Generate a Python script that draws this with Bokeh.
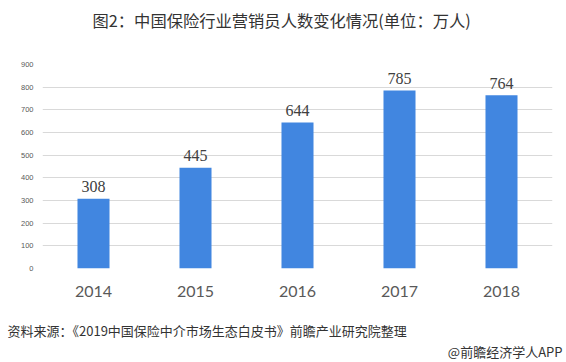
from bokeh.plotting import figure
from bokeh.models import ColumnDataSource, Range1d, FixedTicker, LabelSet, Title
from bokeh.embed import file_html
from bokeh.resources import INLINE

years = ["2014", "2015", "2016", "2017", "2018"]
counts = [308, 445, 644, 785, 764]
y_ticks = [0, 100, 200, 300, 400, 500, 600, 700, 800, 900]
title_text = "图2：中国保险行业营销员人数变化情况(单位：万人)"
source_text = "资料来源：《2019中国保险中介市场生态白皮书》前瞻产业研究院整理"
credit_text = "@前瞻经济学人APP"

src = ColumnDataSource(data=dict(year=years, count=counts, label=[str(c) for c in counts]))

p = figure(x_range=years, y_range=Range1d(0, 900), width=566, height=362, title=None,
           output_backend="svg", toolbar_location=None,
           min_border_left=42, min_border_right=14, min_border_top=64, min_border_bottom=94)
p.outline_line_color = None
p.background_fill_color = "white"
p.border_fill_color = "white"

p.vbar(x="year", top="count", width=0.314, source=src, fill_color="#4186E0", line_color=None)

p.xgrid.grid_line_color = None
p.ygrid.grid_line_color = "#D9D9D9"
p.ygrid.grid_line_width = 1
p.yaxis.ticker = FixedTicker(ticks=y_ticks)

for ax in (p.xaxis, p.yaxis):
    ax.axis_line_color = None
    ax.major_tick_line_color = None
    ax.minor_tick_line_color = None
    ax.major_tick_out = 0
    ax.major_tick_in = 0
    ax.major_label_text_color = "#595959"

p.yaxis.major_label_text_font = "Liberation Sans"
p.yaxis.major_label_text_font_size = "7.5px"
p.yaxis.major_label_standoff = 9
p.xaxis.major_label_text_font = "Lato"
p.xaxis.major_label_text_font_size = "16px"
p.xaxis.major_label_standoff = 17

labels = LabelSet(x="year", y="count", text="label", source=src, text_align="center",
                  text_baseline="middle", y_offset=12, text_font="Lato",
                  text_font_size="16px", text_color="#404040")
p.add_layout(labels)

# spacer between frame and chart title
p.add_layout(Title(text=" ", text_font="Noto Sans CJK SC", text_font_size="13px", standoff=11.5), "above")
p.add_layout(Title(text=title_text, align="left", offset=50, standoff=0,
                   text_font="Noto Sans CJK SC", text_font_size="16.3px",
                   text_font_style="normal", text_color="#333333"), "above")

# spacer between x axis labels and source line
p.add_layout(Title(text=" ", text_font="Noto Sans CJK SC", text_font_size="10px", standoff=2), "below")
p.add_layout(Title(text=source_text, align="left", offset=-35, standoff=0,
                   text_font="Noto Sans CJK SC",
                   text_font_size="13px", text_font_style="normal", text_color="#333333"), "below")
p.add_layout(Title(text=credit_text, align="right", offset=-10, standoff=0,
                   text_font="Noto Sans CJK SC",
                   text_font_size="13px", text_font_style="normal", text_color="#333333"), "below")

open("out.html", "w").write(file_html(p, INLINE))
